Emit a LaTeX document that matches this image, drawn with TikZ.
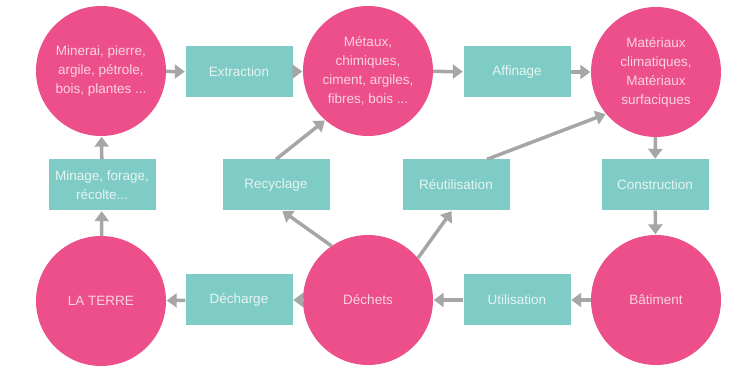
\documentclass[tikz,border=0pt]{standalone}
\usepackage{fontspec}
\setmainfont{Liberation Sans}
\usetikzlibrary{arrows.meta}
\definecolor{rose}{HTML}{EC4F8A}
\definecolor{rosetext}{HTML}{FAD3E2}
\definecolor{teal}{HTML}{7FCBC5}
\definecolor{tealtext}{HTML}{E6F5F3}
\definecolor{flow}{HTML}{A6A6A6}
\tikzset{
  stock/.style={circle, fill=rose, text=rosetext, minimum size=130pt, inner sep=0pt,
    align=center, font=\fontsize{13.5}{19}\selectfont},
  process/.style={rectangle, fill=teal, text=tealtext, minimum width=107pt, minimum height=51pt,
    inner sep=0pt, align=center, font=\fontsize{13.5}{19}\selectfont},
  flowarrow/.style={draw=flow, line width=3.5pt, -{Triangle[length=10pt,width=14pt]}, shorten >=0.5pt}
}
\begin{document}
\begin{tikzpicture}[x=1pt, y=-1pt]
\useasboundingbox (0,0) rectangle (739,371);
% material stocks
\node[stock] (minerai) at (101,71) {Minerai, pierre,\\argile, pétrole,\\bois, plantes ...};
\node[stock] (metaux) at (368,71) {Métaux,\\chimiques,\\ciment, argiles,\\fibres, bois ...};
\node[stock] (materiaux) at (656,72) {Matériaux\\climatiques,\\Matériaux\\surfaciques};
\node[stock] (terre) at (101,301) {LA TERRE};
\node[stock] (dechets) at (368,300) {Déchets};
\node[stock] (batiment) at (656,300) {Bâtiment};
% processes
\node[process] (extraction) at (239,72) {Extraction};
\node[process] (affinage) at (517,72) {Affinage};
\node[process] (minage) at (102,185) {Minage, forage,\\récolte...};
\node[process] (recyclage) at (276,185) {Recyclage};
\node[process] (reutilisation) at (456,185) {Réutilisation};
\node[process] (construction) at (655,185) {Construction};
\node[process] (decharge) at (239,300) {Décharge};
\node[process] (utilisation) at (517,300) {Utilisation};
% main cycle
\draw[flowarrow] (minerai) -- (extraction);
\draw[flowarrow] (extraction) -- (metaux);
\draw[flowarrow] (metaux) -- (affinage);
\draw[flowarrow] (affinage) -- (materiaux);
\draw[flowarrow] (materiaux) -- (construction);
\draw[flowarrow] (construction) -- (batiment);
\draw[flowarrow] (batiment) -- (utilisation);
\draw[flowarrow] (utilisation) -- (dechets);
\draw[flowarrow] (dechets) -- (decharge);
\draw[flowarrow] (decharge) -- (terre);
\draw[flowarrow] (terre) -- (minage);
\draw[flowarrow] (minage) -- (minerai);
% recovery loops
\draw[flowarrow] (dechets.124) -- ([xshift=6pt]recyclage.south);
\draw[flowarrow] (recyclage.north) -- (metaux.229);
\draw[flowarrow] (dechets.40) -- ([xshift=-4pt]reutilisation.south);
\draw[flowarrow] ([xshift=31pt]reutilisation.north) -- (materiaux.220);
\end{tikzpicture}
\end{document}
